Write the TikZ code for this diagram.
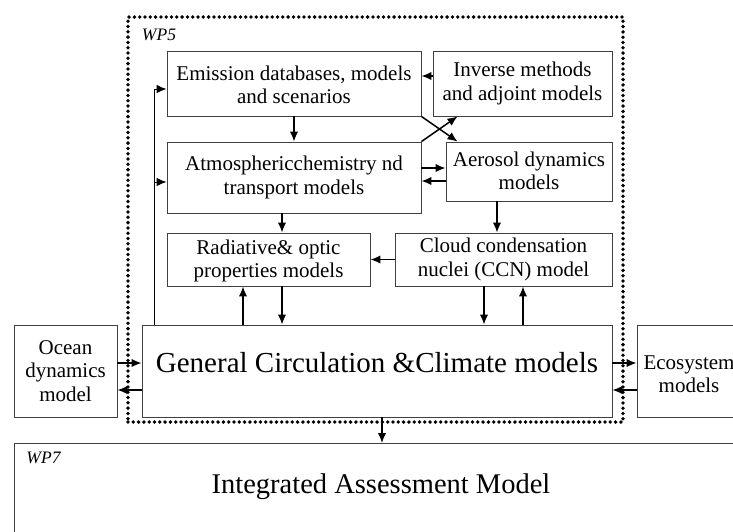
\documentclass[tikz,border=0pt]{standalone}
\usepackage{fontspec}
\setmainfont{Liberation Serif}
\usetikzlibrary{arrows.meta}
\newcommand{\shifttxt}[2]{\raisebox{#1}[0pt][0pt]{\begin{tabular}{@{}c@{}}#2\end{tabular}}}
\begin{document}
\begin{tikzpicture}[x=1pt,y=-1pt,
  box/.style={draw=black!75, line width=0.9pt, inner sep=2pt, align=center,
    font=\fontsize{21}{23.5}\selectfont},
  bigbox/.style={draw=black!75, line width=0.9pt, inner sep=2pt, align=center,
    font=\fontsize{29}{32}\selectfont},
  arr/.style={draw=black, line width=1.5pt, -{Latex[length=10pt,width=8.5pt]}},
  thinarr/.style={draw=black, line width=1pt, -{Latex[length=10pt,width=8.5pt]}},
  dotframe/.style={draw=black, line width=3.8pt, dash pattern=on 0pt off 5.3pt, line cap=round},
  lbl/.style={font=\fontsize{17.5}{20}\selectfont\itshape, inner sep=0pt},
  bigtxt/.style={font=\fontsize{28.5}{32}\selectfont, inner sep=0pt}]
\clip (0,0) rectangle (733,531);
\fill[white] (0,0) rectangle (733,531);

% boxes
\node[box, minimum width=254pt, minimum height=65pt] (emis) at (294,83.5) {\shifttxt{-9.2pt}{Emission databases, models\\and scenarios}};
\node[box, minimum width=179pt, minimum height=65pt] (inv) at (522.5,83.5) {Inverse methods\\and adjoint models};
\node[box, minimum width=254pt, minimum height=71pt] (atm) at (294,177.5) {Atmosphericchemistry nd\\transport models};
\node[box, minimum width=166pt, minimum height=59pt] (aer) at (529,171.5) {\shifttxt{-7pt}{Aerosol dynamics\\models}};
\node[box, minimum width=203pt, minimum height=53pt] (rad) at (268.5,259.5) {\shifttxt{-7pt}{Radiative\& optic\\properties models}};
\node[box, minimum width=217pt, minimum height=53pt] (ccn) at (503.5,259.5) {Cloud condensation\\nuclei (CCN) model};
\node[bigbox, minimum width=470pt, minimum height=92pt] (gcm) at (377,371) {\raisebox{-1pt}[0pt][0pt]{General Circulation \&Climate models}};
\node[box, minimum width=103pt, minimum height=92pt] (ocean) at (65.5,371) {Ocean\\dynamics\\model};
\node[box, minimum width=104pt, minimum height=92pt] (eco) at (689,371) {\shifttxt{-10.5pt}{Ecosystem\\models}};
\node[draw=black!75, line width=0.9pt, minimum width=731pt, minimum height=102pt, anchor=north west, inner sep=0pt] (iam) at (14,443) {};
\node[bigtxt] (iamt) at (381,487) {Integrated Assessment Model};
\node[lbl] (wp7) at (43.5,458) {WP7};

% dotted WP5 frame
\node[dotframe, minimum width=495pt, minimum height=405pt, inner sep=0pt] (wp5) at (375.5,219.5) {};
\node[lbl] (wp5l) at (159,35) {WP5};

% connectors
\draw[arr] ([yshift=7.5pt]inv.west) -- ([yshift=7.5pt]emis.east);
\draw[arr] (emis.south) -- (atm.north);
\draw[arr] (emis.south east) -- ([xshift=12pt]aer.north west);
\draw[arr] (atm.north east) -- ([xshift=25pt]inv.south west);
\draw[arr] ([yshift=9.5pt]atm.east) -- ([yshift=3.5pt]aer.west);
\draw[arr] ([yshift=-9.5pt]aer.west) -- ([yshift=-3.5pt]atm.east);
\draw[arr] ([xshift=-12pt]atm.south) -- ([xshift=13.5pt]rad.north);
\draw[arr] ([xshift=-32pt]aer.south) -- ([xshift=-6.5pt]ccn.north);
\draw[arr] (ccn.west) -- (rad.east);
\draw[arr] ([xshift=-134pt]gcm.north) -- ([xshift=-25.5pt]rad.south);
\draw[arr] ([xshift=13.5pt]rad.south) -- ([xshift=-95pt]gcm.north);
\draw[arr] ([xshift=-19.5pt]ccn.south) -- ([xshift=107pt]gcm.north);
\draw[arr] ([xshift=146pt]gcm.north) -- ([xshift=19.5pt]ccn.south);
\draw[thinarr] ([xshift=-223pt]gcm.north) |- ([yshift=-5.5pt]emis.west);
\draw[thinarr] ([xshift=-223pt]gcm.north) |- ([yshift=-4.5pt]atm.west);
\draw[arr] ([yshift=8pt]ocean.east) -- ([yshift=8pt]gcm.west);
\draw[arr] ([yshift=-19pt]gcm.west) -- ([yshift=-19pt]ocean.east);
\draw[arr] ([yshift=8pt]gcm.east) -- ([yshift=8pt]eco.west);
\draw[arr] ([yshift=-19pt]eco.west) -- ([yshift=-19pt]gcm.east);
\draw[arr] ([xshift=5pt]gcm.south) -- ([xshift=5pt]gcm.south |- iam.north);
\end{tikzpicture}
\end{document}
